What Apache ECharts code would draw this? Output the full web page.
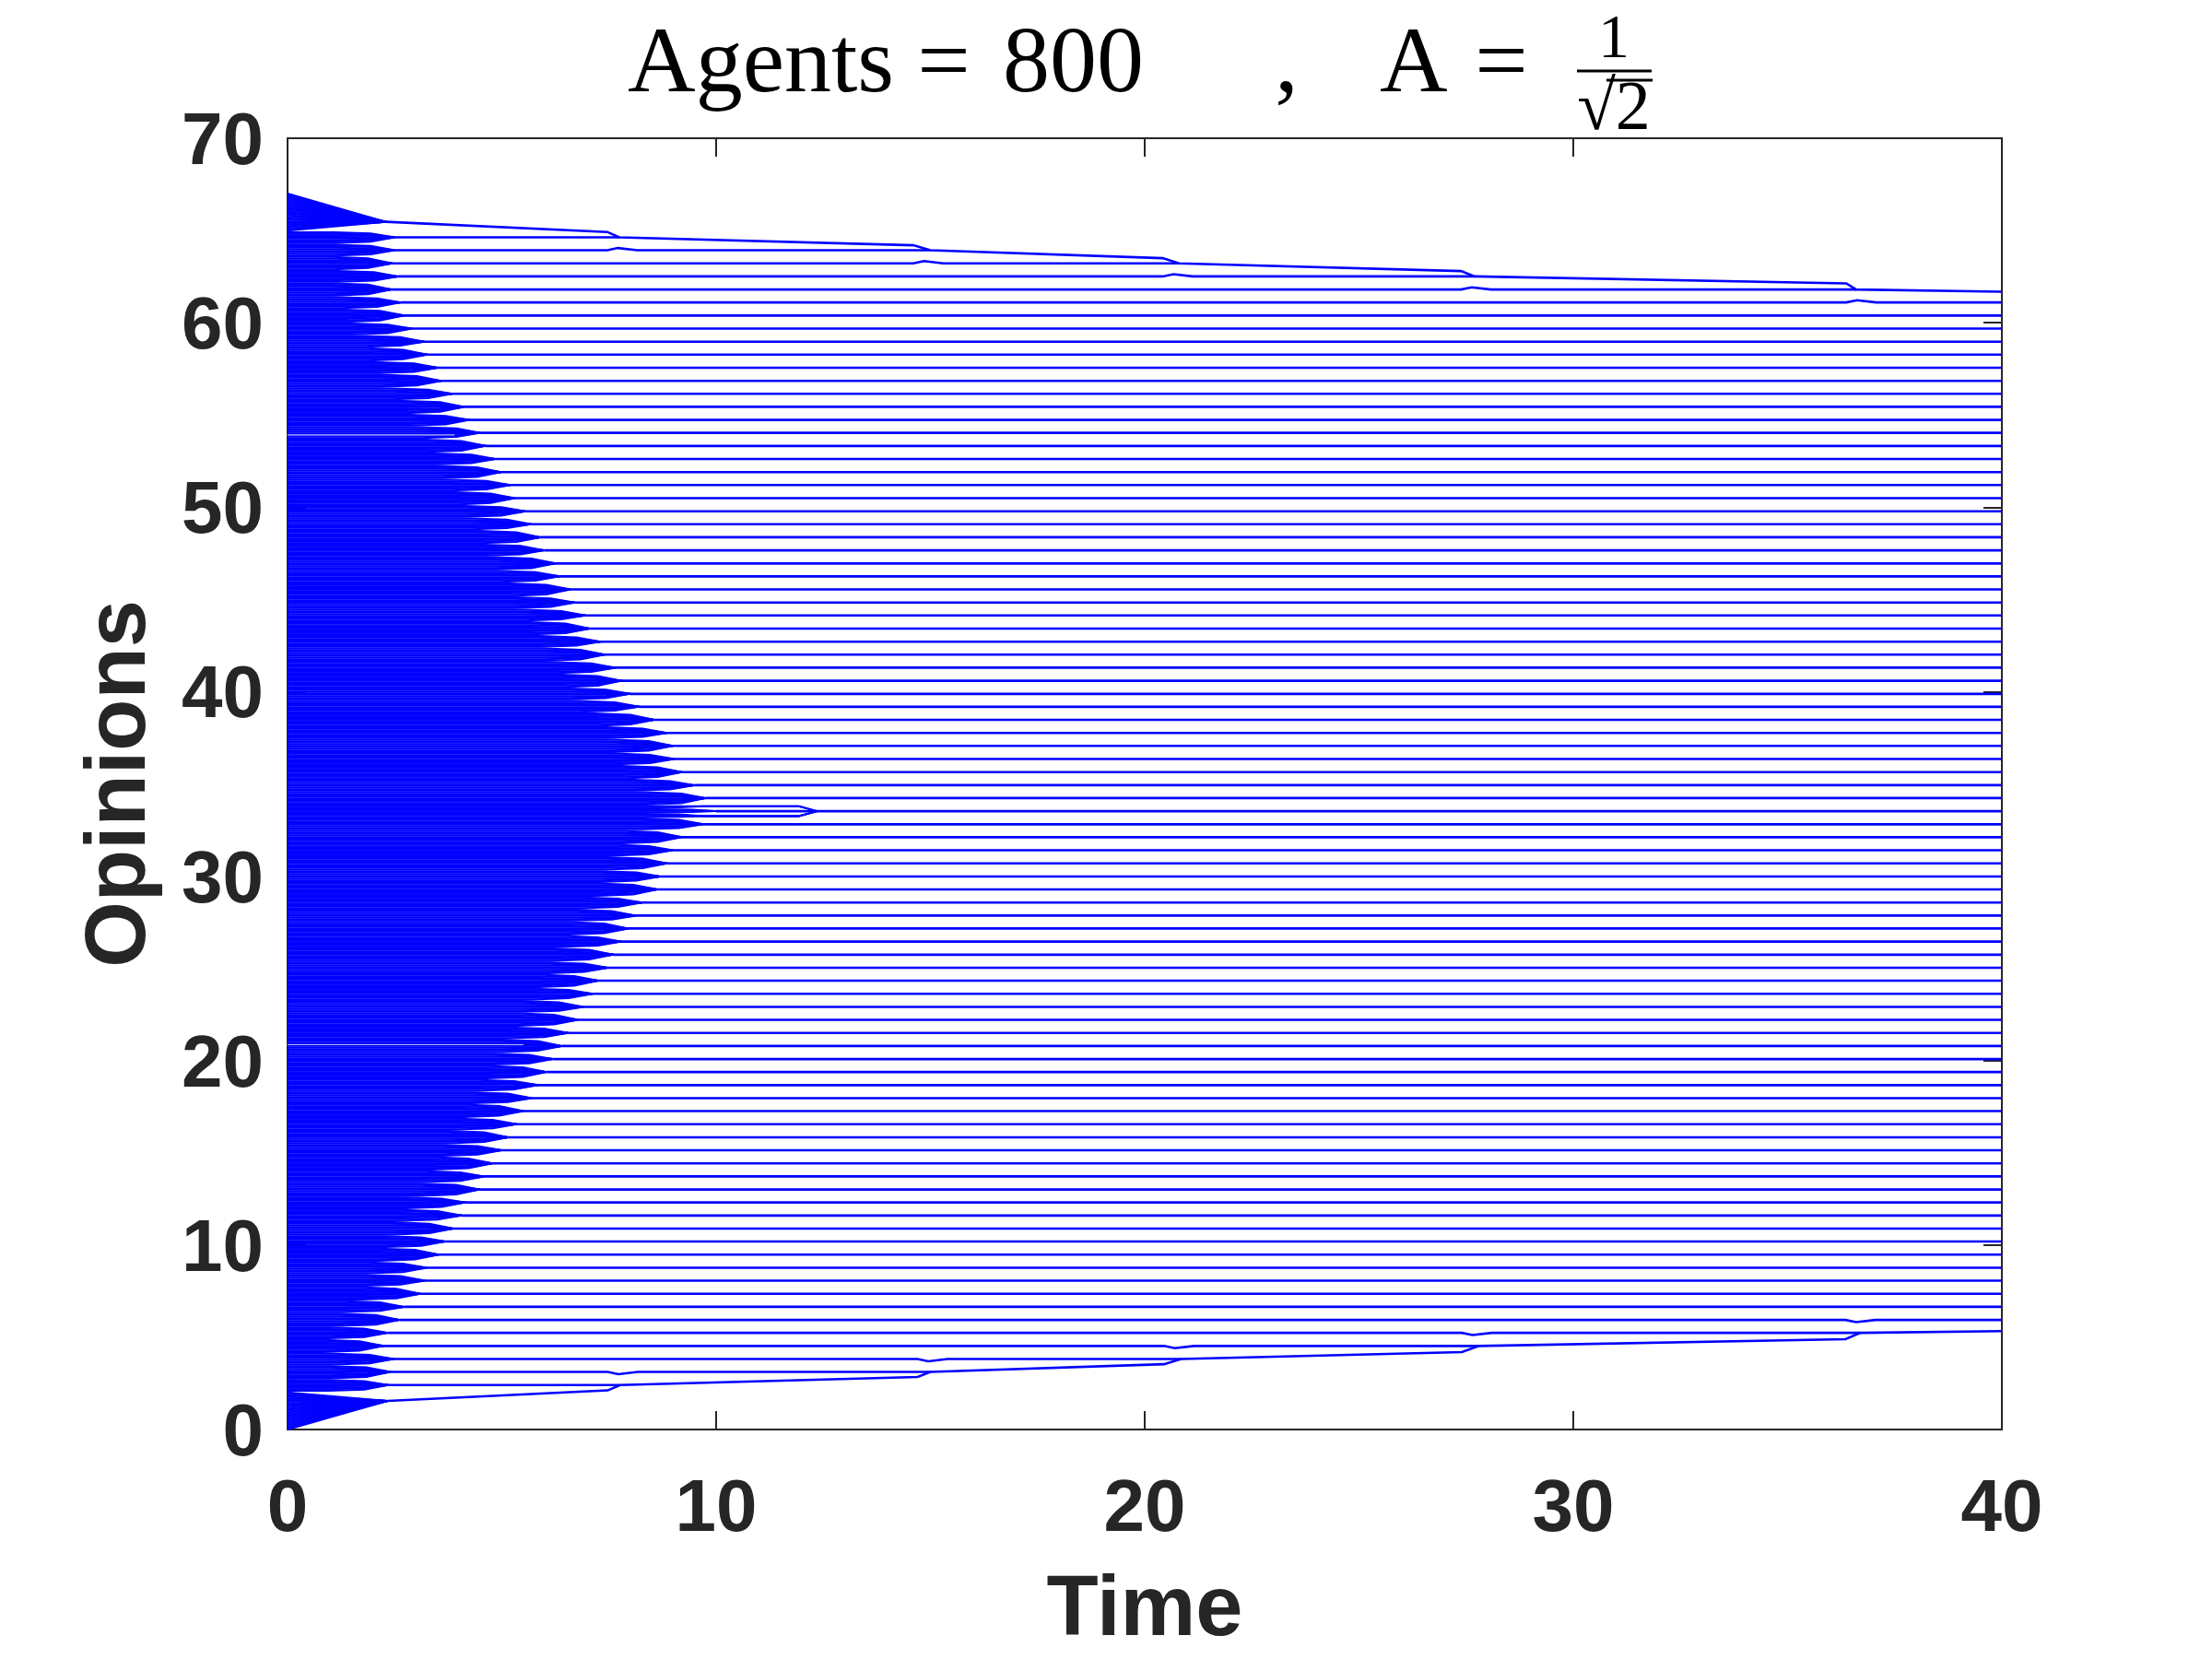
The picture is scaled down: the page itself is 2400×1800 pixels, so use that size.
<!DOCTYPE html>
<html><head><meta charset="utf-8">
<script src="https://cdn.jsdelivr.net/npm/echarts@6/dist/echarts.min.js"></script>
<style>html,body{margin:0;padding:0;background:#fff}#chart{width:2400px;height:1800px}</style>
</head><body><div id="chart"></div>
<script>
// ---------------- data ----------------
const xTicks = [0, 10, 20, 30, 40];
const yTicks = [0, 10, 20, 30, 40, 50, 60, 70];
const agentCount = 800;
const initialRange = [0, 67.0];

// final opinion of each cluster (top to bottom)
const clusterValues = [
 64.63, 63.93, 63.22, 62.51, 61.80, 61.10, 60.39, 59.68, 58.97, 58.27,
 57.56, 56.85, 56.15, 55.44, 54.73, 54.03, 53.32, 52.61, 51.90, 51.20,
 50.49, 49.78, 49.08, 48.37, 47.66, 46.95, 46.25, 45.54, 44.83, 44.13,
 43.42, 42.71, 42.01, 41.30, 40.59, 39.88, 39.18, 38.47, 37.76, 37.06,
 36.35, 35.64, 34.93, 34.23, 33.52, 32.81, 32.11, 31.40, 30.69, 29.98,
 29.28, 28.57, 27.86, 27.16, 26.45, 25.74, 25.03, 24.33, 23.62, 22.91,
 22.21, 21.50, 20.79, 20.08, 19.38, 18.67, 17.96, 17.26, 16.55, 15.84,
 15.14, 14.43, 13.72, 13.01, 12.31, 11.60, 10.89, 10.19, 9.48, 8.77,
 8.07, 7.36, 6.65, 5.94, 5.24, 4.53, 3.82, 3.12, 2.41
];
// time at which each cluster's fan closes (tip of the spike)
const clusterFormTimes = [
 2.5, 2.5, 2.44, 2.58, 2.44, 2.65, 2.72, 2.9, 3.19, 3.26, 3.51, 3.58, 3.84, 4.12,
 4.25, 4.5, 4.62, 4.85, 4.98, 5.2, 5.3, 5.55, 5.68, 5.9, 6.0, 6.25, 6.35, 6.6, 6.7, 6.95, 7.05, 7.3, 7.4, 7.65, 7.8,
 7.99, 8.2, 8.56, 8.85, 8.99, 9.02, 9.2, 9.49, 9.75, 10.0, 9.7, 9.2, 8.99, 8.85, 8.7, 8.63, 8.27, 8.13,
 7.95, 7.8, 7.6, 7.48, 7.25, 7.12, 6.9, 6.78, 6.55, 6.4, 6.2, 6.05, 5.85, 5.7, 5.5, 5.35, 5.15,
 5.0, 4.78, 4.59, 4.49, 4.16, 4.06, 3.87, 3.68, 3.53, 3.25, 3.2, 3.1, 2.72, 2.62, 2.35, 2.24, 2.48, 2.4, 2.35
];
const fanDuration = 1.4;      // time over which a cluster's fan closes
const fanBendTime = 0.6;      // fraction of the fan time at the bend
const fanBendShare = 0.22;    // fraction of the distance covered by the bend

// outermost (edge) clusters that drift inward and absorb neighbours
const topEdgeBasin = [64.98, 67.0];
const bottomEdgeBasin = [0, 2.05];
const topEdgeT = [2.29, 7.46, 7.74, 14.6, 15.0, 20.42, 20.8, 27.38, 27.7, 36.37, 36.6, 40];
const topEdgeV = [65.47, 64.92, 64.63, 64.2, 63.93, 63.5, 63.22, 62.8, 62.51, 62.13, 61.80, 61.68];
const bottomEdgeT = [2.33, 7.47, 7.76, 14.7, 15.0, 20.45, 20.85, 27.4, 27.8, 36.35, 36.7, 40];
const bottomEdgeV = [1.55, 2.12, 2.41, 2.85, 3.12, 3.54, 3.82, 4.2, 4.53, 4.9, 5.24, 5.33];
const topAbsorbed = [0, 1, 2, 3, 4];
const topMergeStart = [7.46, 14.6, 20.42, 27.38, 36.37];
const topMergeEnd = [7.74, 15.0, 20.8, 27.7, 36.6];
const bottomAbsorbed = [88, 87, 86, 85, 84];
const bottomMergeStart = [7.47, 14.7, 20.45, 27.4, 36.35];
const bottomMergeEnd = [7.76, 15.0, 20.85, 27.8, 36.7];
const bumpHeight = 0.12;

// split sub-clusters of the central cluster
const centerIndex = 44;
const centerLoopT = [9.7, 11.93, 12.36];
const centerLoopOffset = 0.27;

// faint gaps inside the solid region
const gapLineV = [53.92, 20.86];
const gapLineEnd = [3.9, 5.5];

// ---------------- build paths ----------------
function fan(x0, tEnd, vEnd) {
  const ts = tEnd - fanDuration;
  return [[0, x0], [ts, x0], [ts + fanBendTime * fanDuration, x0 + fanBendShare * (vEnd - x0)], [tEnd, vEnd]];
}
const agentPaths = [];
const step = (initialRange[1] - initialRange[0]) / (agentCount - 1);
for (let i = 0; i < agentCount; i++) {
  const x0 = initialRange[0] + i * step;
  if (x0 >= topEdgeBasin[0]) { agentPaths.push([[0, x0], [topEdgeT[0], topEdgeV[0]]]); continue; }
  if (x0 <= bottomEdgeBasin[1]) { agentPaths.push([[0, x0], [bottomEdgeT[0], bottomEdgeV[0]]]); continue; }
  let j = 0, best = 1e9;
  clusterValues.forEach((v, k) => { const d = Math.abs(v - x0); if (d < best) { best = d; j = k; } });
  const v = clusterValues[j];
  if (j === centerIndex && Math.abs(x0 - v) > 0.12) {
    const s = x0 > v ? 1 : -1;
    const p = fan(x0, centerLoopT[0], v + s * centerLoopOffset);
    p.push([centerLoopT[1], v + s * centerLoopOffset], [centerLoopT[2], v]);
    agentPaths.push(p);
    continue;
  }
  agentPaths.push(fan(x0, clusterFormTimes[j], v));
}

const clusterPaths = [];
clusterValues.forEach((v, j) => {
  let end = 40;
  const ti = topAbsorbed.indexOf(j); if (ti >= 0) end = topMergeEnd[ti];
  const bi = bottomAbsorbed.indexOf(j); if (bi >= 0) end = bottomMergeEnd[bi];
  const bumps = [];
  topAbsorbed.forEach((a, m) => { if (a + 1 === j) bumps.push([topMergeStart[m], 1]); });
  bottomAbsorbed.forEach((a, m) => { if (a - 1 === j) bumps.push([bottomMergeStart[m], -1]); });
  const pts = [[clusterFormTimes[j], v]];
  bumps.filter(b => b[0] < end).sort((a, b) => a[0] - b[0]).forEach(b => {
    pts.push([b[0], v]); pts.push([b[0] + 0.25, v + b[1] * bumpHeight]); pts.push([b[0] + 0.7, v]);
  });
  pts.push([end, v]);
  clusterPaths.push(pts);
});
clusterPaths.push(topEdgeT.map((t, i) => [t, topEdgeV[i]]));
clusterPaths.push(bottomEdgeT.map((t, i) => [t, bottomEdgeV[i]]));

const gapPaths = gapLineV.map((v, i) => [[0, v], [gapLineEnd[i], v]]);

// ---------------- chart ----------------
const axisColor = '#262626';
const tickFont = { fontSize: 80, fontWeight: 'bold', fontFamily: 'Liberation Sans', color: axisColor };
const lineStyle = { color: axisColor, width: 2 };
function xAx(pos, show) {
  return { type: 'value', position: pos, min: xTicks[0], max: xTicks[xTicks.length - 1], interval: xTicks[1] - xTicks[0],
    axisLine: { show: true, onZero: false, lineStyle }, axisTick: { show: true, inside: true, length: 20, lineStyle },
    axisLabel: show ? Object.assign({ margin: 48 }, tickFont) : { show: false }, splitLine: { show: false },
    name: show ? 'Time' : '', nameLocation: 'middle', nameGap: 152,
    nameTextStyle: { fontSize: 92, fontWeight: 'bold', fontFamily: 'Liberation Sans', color: axisColor } };
}
function yAx(pos, show) {
  return { type: 'value', position: pos, min: yTicks[0], max: yTicks[yTicks.length - 1], interval: yTicks[1] - yTicks[0],
    axisLine: { show: true, onZero: false, lineStyle }, axisTick: { show: true, inside: true, length: 20, lineStyle },
    axisLabel: show ? Object.assign({ margin: 26, verticalAlign: 'top', lineHeight: 12 }, tickFont) : { show: false }, splitLine: { show: false },
    name: show ? 'Opinions' : '', nameLocation: 'middle', nameGap: 134,
    nameTextStyle: { fontSize: 92, fontWeight: 'bold', fontFamily: 'Liberation Sans', color: axisColor } };
}
const serif = '"Liberation Serif", "DejaVu Serif", serif';
function txt(text, x, y, size, align) {
  return { type: 'text', x, y, z: 10, style: { text, font: size + 'px ' + serif, fill: '#000',
    textAlign: align, align: align, textVerticalAlign: 'middle', verticalAlign: 'middle' } };
}

const chart = echarts.init(document.getElementById('chart'), null, { renderer: 'canvas' });
chart.setOption({
  animation: false,
  backgroundColor: '#fff',
  grid: { left: 312, right: 228, top: 150, bottom: 248 },
  xAxis: [xAx('bottom', true), xAx('top', false)],
  yAxis: [yAx('left', true), yAx('right', false)],
  graphic: [
    txt('Agents', 681, 72, 102, 'left'),
    txt('=', 1024, 72, 102, 'center'),
    txt('800', 1088, 72, 102, 'left'),
    txt(',', 1396, 72, 102, 'center'),
    txt('A', 1497, 72, 102, 'left'),
    txt('=', 1629, 72, 102, 'center'),
    txt('1', 1751, 44, 68, 'center'),
    { type: 'line', z: 10, shape: { x1: 1711, y1: 77, x2: 1792, y2: 77 }, style: { stroke: '#000', lineWidth: 3 } },
    txt('\u221A2', 1751, 120, 76, 'center'),
    { type: 'line', z: 10, shape: { x1: 1743, y1: 87, x2: 1793, y2: 87 }, style: { stroke: '#000', lineWidth: 3 } }
  ],
  series: [
    { type: 'lines', coordinateSystem: 'cartesian2d', polyline: true, silent: true, z: 2,
      lineStyle: { color: '#0000ff', width: 2, opacity: 1 },
      data: agentPaths.map(p => ({ coords: p })) },
    { type: 'lines', coordinateSystem: 'cartesian2d', polyline: true, silent: true, z: 3,
      lineStyle: { color: '#0000ff', width: 2.6, opacity: 1 },
      data: clusterPaths.map(p => ({ coords: p })) },
    { type: 'lines', coordinateSystem: 'cartesian2d', polyline: true, silent: true, z: 4,
      lineStyle: { color: '#b8b8f0', width: 1.2, opacity: 1 },
      data: gapPaths.map(p => ({ coords: p })) }
  ]
});
</script></body></html>
